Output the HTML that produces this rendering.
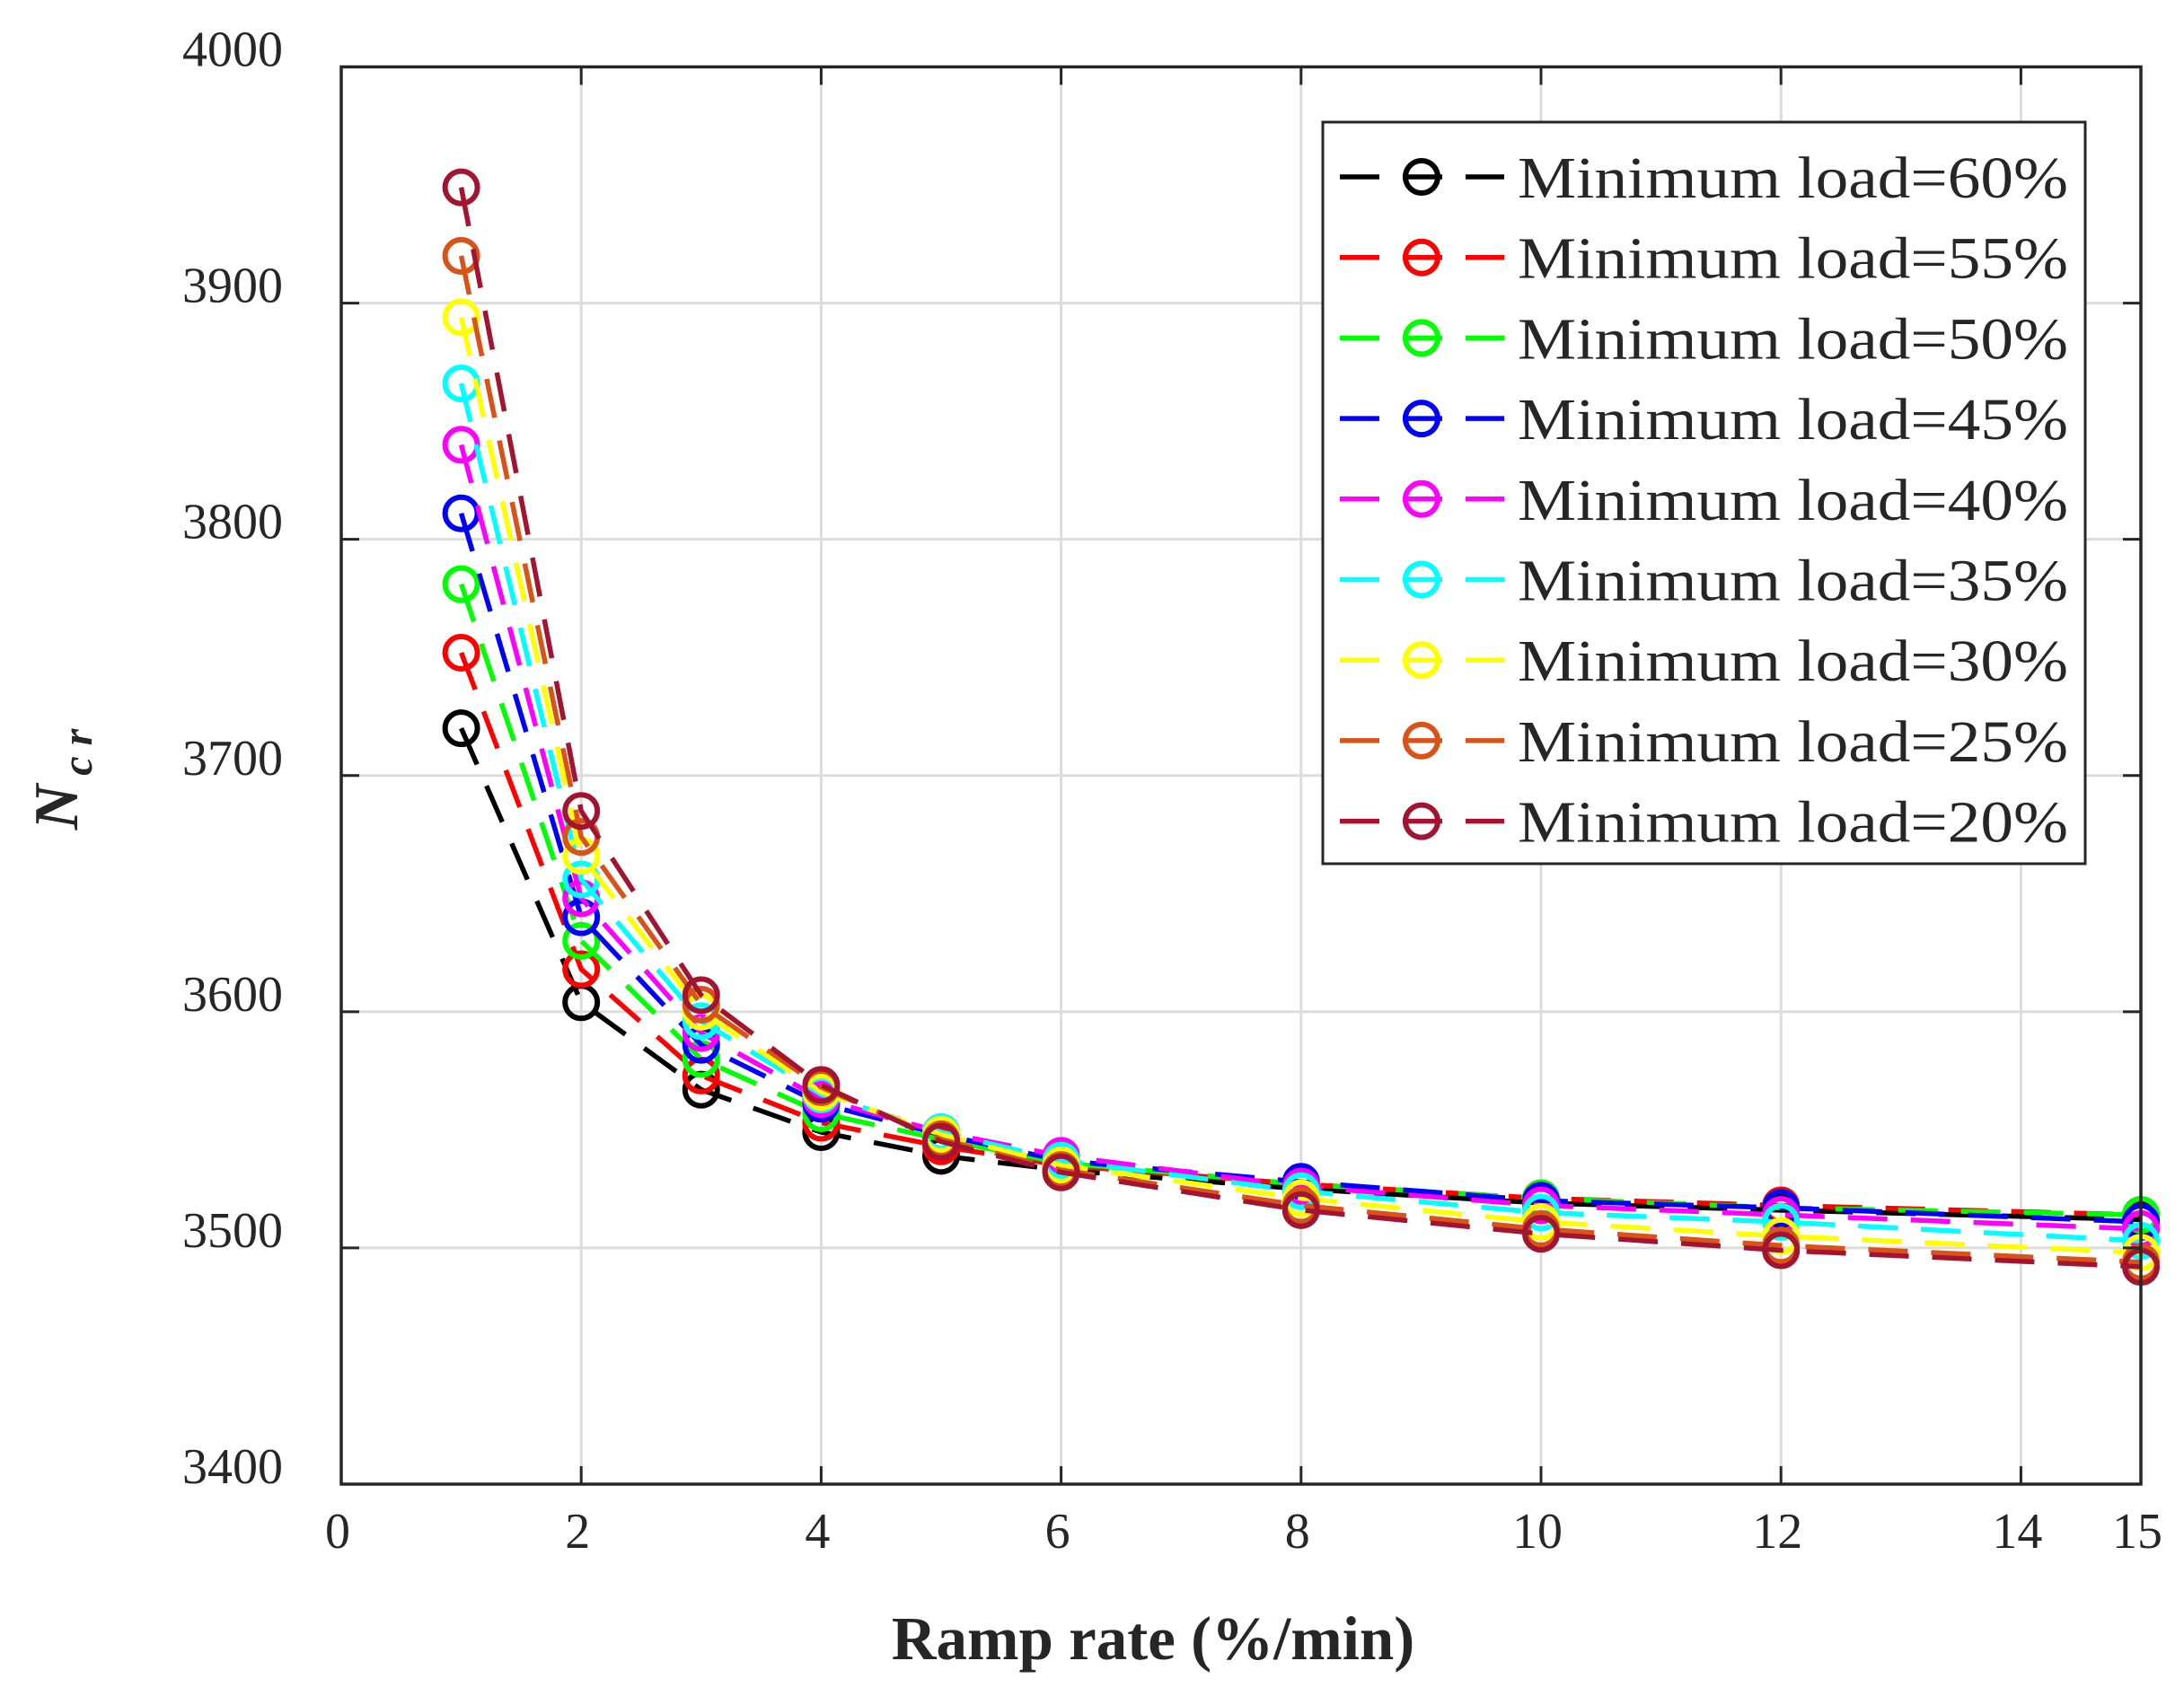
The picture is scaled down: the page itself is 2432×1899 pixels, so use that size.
<!DOCTYPE html>
<html><head><meta charset="utf-8"><style>
html,body{margin:0;padding:0;background:#fff;}
svg{display:block;}
text{font-family:"Liberation Serif",serif;fill:#262626;}
</style></head><body>
<svg id="chart" width="2432" height="1899" viewBox="0 0 2432 1899" xmlns="http://www.w3.org/2000/svg">
<rect width="2432" height="1899" fill="#fff"/>
<g id="grid"></g>
<g id="series"></g>
<g id="axes"></g>
<g id="legend"></g>
<text x="1284" y="1848" font-size="69" font-weight="bold" text-anchor="middle">Ramp rate (%/min)</text>
<text transform="translate(86,868) rotate(-90)" font-size="70" font-weight="bold" font-style="italic" text-anchor="middle">N<tspan font-size="48" dy="16" dx="10">c r</tspan></text>
</svg>
<script>
const xValues = [1,2,3,4,5,6,8,10,12,15];
const xTicks = [0,2,4,6,8,10,12,14,15];
const yTicks = [3400,3500,3600,3700,3800,3900,4000];
const seriesNames = ["Minimum load=60%","Minimum load=55%","Minimum load=50%","Minimum load=45%","Minimum load=40%","Minimum load=35%","Minimum load=30%","Minimum load=25%","Minimum load=20%"];
const seriesColors = ["#000000","#ff0000","#00ff00","#0000ff","#ff00ff","#00ffff","#ffff00","#d95319","#a2142f"];
const s60 = [3720,3604,3567,3549,3539,3533,3525,3519,3516,3512];
const s55 = [3752,3618,3573,3553,3543,3535,3527,3521,3518,3514];
const s50 = [3781,3630,3580,3557,3546,3536,3527,3521,3517,3514];
const s45 = [3811,3640,3586,3561,3548,3537,3528,3520,3517,3511];
const s40 = [3840,3648,3591,3563,3549,3539,3526,3518,3514,3508];
const s35 = [3866,3656,3596,3565,3549,3537,3524,3515,3511,3503];
const s30 = [3894,3666,3600,3566,3548,3535,3521,3511,3505,3498];
const s25 = [3920,3674,3603,3568,3546,3533,3518,3508,3501,3494];
const s20 = [3949,3685,3607,3569,3545,3532,3516,3506,3499,3492];
const allSeries = [s60,s55,s50,s45,s40,s35,s30,s25,s20];

const NS="http://www.w3.org/2000/svg";
const L=380,R=2384,T=74.5,B=1653;
const X0=0,X1=15,Y0=3400,Y1=4000;
function sx(v){return L+(v-X0)/(X1-X0)*(R-L);}
function sy(v){return B-(v-Y0)/(Y1-Y0)*(B-T);}
function mk(tag,attrs,parent){const e=document.createElementNS(NS,tag);for(const k in attrs)e.setAttribute(k,attrs[k]);parent.appendChild(e);return e;}

const grid=document.getElementById('grid');
const axes=document.getElementById('axes');
xTicks.forEach(t=>{
  const g=mk('line',{x1:sx(t),x2:sx(t),y1:T,y2:B,stroke:'#dcdcdc','stroke-width':3},grid);
  
  
  const tk=mk('line',{x1:sx(t),x2:sx(t),y1:B,y2:B-20,stroke:'#262626','stroke-width':3},axes);
  
  
  const tk2=mk('line',{x1:sx(t),x2:sx(t),y1:T,y2:T+20,stroke:'#262626','stroke-width':3},axes);
  
  
  const lb=mk('text',{x:sx(t)-4,y:1724,'font-size':56,'text-anchor':'middle'},axes);
  lb.textContent=t;
  
  
});
yTicks.forEach(t=>{
  const g=mk('line',{x1:L,x2:R,y1:sy(t),y2:sy(t),stroke:'#dcdcdc','stroke-width':3},grid);
  
  
  const tk=mk('line',{x1:L,x2:L+20,y1:sy(t),y2:sy(t),stroke:'#262626','stroke-width':3},axes);
  
  
  const tk2=mk('line',{x1:R,x2:R-20,y1:sy(t),y2:sy(t),stroke:'#262626','stroke-width':3},axes);
  
  
  const lb=mk('text',{x:315,y:sy(t)-1,'font-size':56,'text-anchor':'end'},axes);
  lb.textContent=t;
  
  
});
const frame=mk('rect',{x:L,y:T,width:R-L,height:B-T,fill:'none',stroke:'#262626','stroke-width':3.5},axes);



const sg=document.getElementById('series');
allSeries.forEach((vals,i)=>{
  const c=seriesColors[i];
  const g=mk('g',{},sg);
  
  
  const pts=vals.map((v,j)=>sx(xValues[j])+','+sy(v)).join(' ');
  const pl=mk('polyline',{points:pts,fill:'none',stroke:c,'stroke-width':5.5,'stroke-dasharray':'44 26'},g);
  
  
  vals.forEach((v,j)=>{
    const m=mk('circle',{cx:sx(xValues[j]),cy:sy(v),r:18,fill:'none',stroke:c,'stroke-width':6},g);
    
    
  });
});

const lg=document.getElementById('legend');
const box=mk('rect',{x:1473,y:136,width:849,height:826,fill:'#fff',stroke:'#262626','stroke-width':3},lg);


seriesNames.forEach((n,i)=>{
  const y=197+i*89.7;
  const c=seriesColors[i];
  const g=mk('g',{},lg);
  
  
  mk('line',{x1:1492,x2:1675,y1:y,y2:y,stroke:c,'stroke-width':5.5,'stroke-dasharray':'44 26'},g);
  mk('circle',{cx:1583,cy:y,r:18,fill:'none',stroke:c,'stroke-width':6},g);
  const t=mk('text',{x:1690,y:y+23,'font-size':66,textLength:613,lengthAdjust:'spacingAndGlyphs'},g);
  t.textContent=n;
  
  
});
</script>
</body></html>
